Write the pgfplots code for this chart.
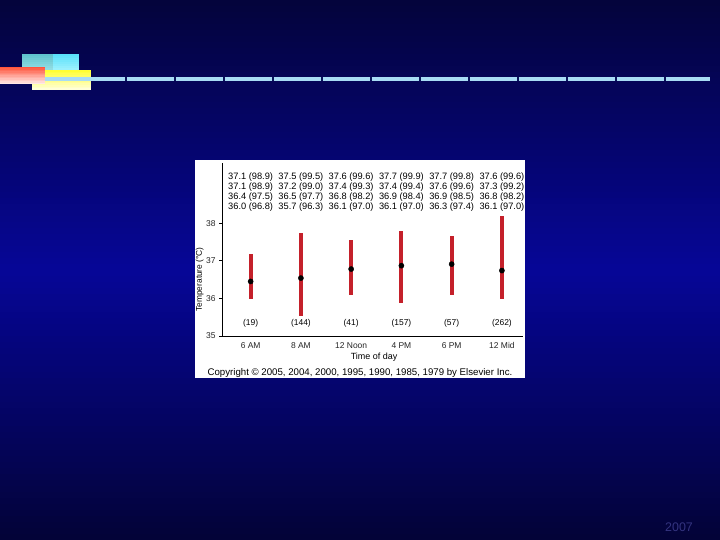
\documentclass[border=0pt]{standalone}
\usepackage{fontspec}
\setmainfont{Liberation Sans}
\usepackage{pgfplots}
\usepackage{pgfplotstable}
\pgfplotsset{compat=1.18}
\definecolor{bgtop}{RGB}{4,4,60}
\definecolor{bgmid}{RGB}{6,6,152}
\definecolor{bgbot}{RGB}{3,3,56}
\definecolor{barred}{RGB}{196,32,42}
\definecolor{rulebl}{RGB}{168,220,244}
\definecolor{sep}{RGB}{10,20,90}
\definecolor{yeargray}{RGB}{52,52,128}
\definecolor{cyLt}{RGB}{95,195,205}
\definecolor{cyLb}{RGB}{175,235,240}
\definecolor{cyRt}{RGB}{90,225,250}
\definecolor{cyRb}{RGB}{190,248,255}
\definecolor{yet}{RGB}{255,255,50}
\definecolor{yeb}{RGB}{255,255,215}
\definecolor{rdt}{RGB}{255,85,60}
\definecolor{rdb}{RGB}{255,232,230}

% vertical gradient box: x1, y1 (bottom), x2, y2 (top), top colour, bottom colour
\newcommand\vgrad[6]{%
  \foreach \k in {0,...,11} {
    \pgfmathsetmacro{\p}{100*\k/11}
    \fill[#5!\p!#6] (#1,{#2+(#4-#2)*\k/12}) rectangle (#3,{#2+(#4-#2)*(\k+1)/12+0.3});
  }%
}

\pgfplotstableread{
x   lo     hi     mean
0   35.99  37.18  36.45
1   35.54  37.73  36.54
2   36.10  37.54  36.78
3   35.87  37.79  36.87
4   36.10  37.65  36.91
5   35.98  38.20  36.74
}\temps

\begin{document}
\begin{tikzpicture}[x=1bp,y=1bp]
\useasboundingbox (0,0) rectangle (720,540);
% slide background, built from thin bands
\foreach \i in {0,...,44} {
  \pgfmathsetmacro{\p}{100*\i/45}
  \fill[bgmid!\p!bgbot] (0,{6*\i}) rectangle (720,{6*\i+6.5});
  \fill[bgmid!\p!bgtop] (0,{540-6*\i-6.5}) rectangle (720,{540-6*\i});
}
% decoration in the top left corner
\vgrad{22}{462}{53}{486}{cyLt}{cyLb}
\vgrad{53}{462}{79}{486}{cyRt}{cyRb}
\vgrad{32}{450}{91}{470}{yet}{yeb}
\fill[rulebl] (40,459) rectangle (710,462.5);
\foreach \s in {126,175,...,665} \fill[sep] (\s-0.6,459) rectangle (\s+0.6,462.5);
\vgrad{0}{456}{45}{473}{rdt}{rdb}
% white panel of the figure
\fill[white] (195,162) rectangle (525,380);

\begin{axis}[
  at={(222bp,204bp)}, anchor=south west,
  scale only axis, width=301bp, height=173bp,
  xmin=-0.57, xmax=5.42, ymin=35, ymax=39.6,
  axis x line*=bottom, axis y line*=left,
  axis line style={black, line width=0.8pt},
  xtick={0,...,5},
  xticklabels={6 AM, 8 AM, 12 Noon, 4 PM, 6 PM, 12 Mid},
  x tick style={draw=none},
  ytick={35,36,37,38},
  tick align=outside, major tick length=3bp,
  y tick style={black, line width=0.6pt},
  tick label style={font=\fontsize{8.5}{10}\selectfont, text=black!85},
  /pgf/number format/assume math mode=true,
  xlabel={Time of day},
  ylabel={Temperature (°C)},
  every axis x label/.style={at={(axis description cs:0.505,-0.12)}, anchor=center, font=\fontsize{9}{10}\selectfont},
  every axis y label/.style={at={(axis description cs:-0.074,0.327)}, rotate=90, anchor=center, font=\fontsize{8.4}{10}\selectfont},
  clip=false,
]
\addplot[draw=none, mark=none,
  error bars/.cd, y dir=both, y explicit,
  error bar style={barred, line width=4bp}, error mark=none]
  table[x=x, y=mean, y error plus expr=\thisrow{hi}-\thisrow{mean},
        y error minus expr=\thisrow{mean}-\thisrow{lo}] {\temps};
\addplot[only marks, mark=*, mark size=2.6bp, black] table[x=x, y=mean] {\temps};

\begin{scope}[every node/.style={font=\fontsize{9.3}{10}\selectfont, align=center, inner sep=0pt}]
\node at (axis cs:0,38.83) {37.1 (98.9)\\37.1 (98.9)\\36.4 (97.5)\\36.0 (96.8)};
\node at (axis cs:1,38.83) {37.5 (99.5)\\37.2 (99.0)\\36.5 (97.7)\\35.7 (96.3)};
\node at (axis cs:2,38.83) {37.6 (99.6)\\37.4 (99.3)\\36.8 (98.2)\\36.1 (97.0)};
\node at (axis cs:3,38.83) {37.7 (99.9)\\37.4 (99.4)\\36.9 (98.4)\\36.1 (97.0)};
\node at (axis cs:4,38.83) {37.7 (99.8)\\37.6 (99.6)\\36.9 (98.5)\\36.3 (97.4)};
\node at (axis cs:5,38.83) {37.6 (99.6)\\37.3 (99.2)\\36.8 (98.2)\\36.1 (97.0)};
\end{scope}

\begin{scope}[every node/.style={font=\fontsize{8.5}{10}\selectfont}]
\node at (axis cs:0,35.35) {(19)};
\node at (axis cs:1,35.35) {(144)};
\node at (axis cs:2,35.35) {(41)};
\node at (axis cs:3,35.35) {(157)};
\node at (axis cs:4,35.35) {(57)};
\node at (axis cs:5,35.35) {(262)};
\end{scope}
\end{axis}

\node[font=\fontsize{9.7}{11}\selectfont, inner sep=0pt] at (360,167) {Copyright © 2005, 2004, 2000, 1995, 1990, 1985, 1979 by Elsevier Inc.};
\node[font=\fontsize{12.5}{14}\selectfont, text=yeargray, inner sep=0pt] at (679,13) {2007};
\end{tikzpicture}
\end{document}
